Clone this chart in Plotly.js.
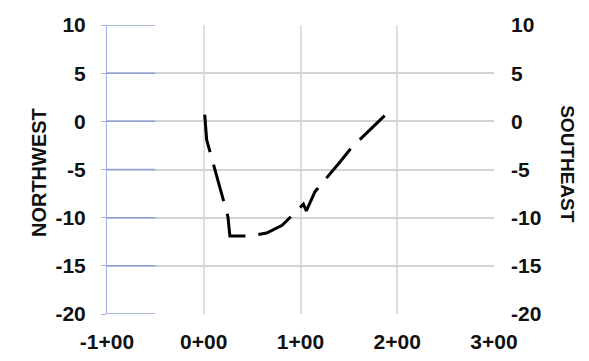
<!DOCTYPE html>
<html><head><meta charset="utf-8">
<script src="https://cdn.plot.ly/plotly-3.0.1.min.js"></script>
<style>html,body{margin:0;padding:0;background:#fff}#c{width:589px;height:361px}</style>
</head><body><div id="c"></div>
<script>
const stations = [0.01, 0.03, 0.25, 0.27, 0.48, 0.65, 0.81, 1.00, 1.03, 1.06, 1.15, 1.41, 1.53, 1.87];
const offsets  = [0.7, -1.9, -9.9, -11.9, -11.9, -11.6, -10.8, -8.9, -8.6, -9.3, -7.3, -4.2, -2.7, 0.6];
const xTickVals = [-1, 0, 1, 2, 3];
const xTickText = ['-1+00', '0+00', '1+00', '2+00', '3+00'];
const yTickVals = [-20, -15, -10, -5, 0, 5, 10];
const yTickText = ['-20', '-15', '-10', '-5', '0', '5', '10'];
const leftTitle = 'NORTHWEST';
const rightTitle = 'SOUTHEAST';

const F = {family: 'Liberation Sans', size: 20, color: '#111', weight: 700};
const FT = Object.assign({}, F, {size: 21});
const bold = a => a.map(s => '<b>' + s + '</b>');
const trace = {
  x: stations, y: offsets, mode: 'lines', type: 'scatter',
  line: {color: '#000', width: 3, dash: '38px,13px'}, hoverinfo: 'skip', showlegend: false
};
const blueShapes = yTickVals.map(v => ({
  type: 'line', xref: 'x', yref: 'y', x0: -1, x1: -0.5, y0: v, y1: v,
  line: {color: '#8fa3d9', width: 1.5}, layer: 'above'
}));
const layout = {
  width: 589, height: 361,
  margin: {l: 107, r: 95, t: 25, b: 47},
  paper_bgcolor: '#fff', plot_bgcolor: '#fff',
  font: F,
  xaxis: {range: [-1, 3], tickvals: xTickVals, ticktext: bold(xTickText), showgrid: true,
    gridcolor: '#dedede', gridwidth: 2, zeroline: false, showline: false, ticks: '',
    tickfont: FT, ticklabelstandoff: 13},
  yaxis: {range: [-20, 10], tickvals: yTickVals, ticktext: bold(yTickText), showgrid: true,
    gridcolor: '#d4d4d4', gridwidth: 2, zeroline: false, showline: true,
    linecolor: '#9fb0dd', linewidth: 1, ticks: 'outside', ticklen: 5, tickcolor: '#9fb0dd',
    tickfont: FT, ticklabelstandoff: 11},
  yaxis2: {range: [-20, 10], tickvals: yTickVals, ticktext: bold(yTickText), overlaying: 'y', side: 'right',
    showgrid: false, zeroline: false, showline: false, ticks: '', tickfont: FT, ticklabelstandoff: 16},
  shapes: blueShapes,
  annotations: [
    {text: '<b>' + leftTitle + '</b>', xref: 'paper', yref: 'paper', x: -0.174, y: 0.49, showarrow: false,
     textangle: -90, font: F, xanchor: 'center', yanchor: 'middle'},
    {text: '<b>' + rightTitle + '</b>', xref: 'paper', yref: 'paper', x: 1.19, y: 0.52, showarrow: false,
     textangle: 90, font: Object.assign({}, F, {size: 19}), xanchor: 'center', yanchor: 'middle'}
  ]
};
const dummy = {x: [null], y: [null], yaxis: 'y2', type: 'scatter', showlegend: false, hoverinfo: 'skip'};
Plotly.newPlot('c', [trace, dummy], layout, {staticPlot: true});
</script></body></html>
